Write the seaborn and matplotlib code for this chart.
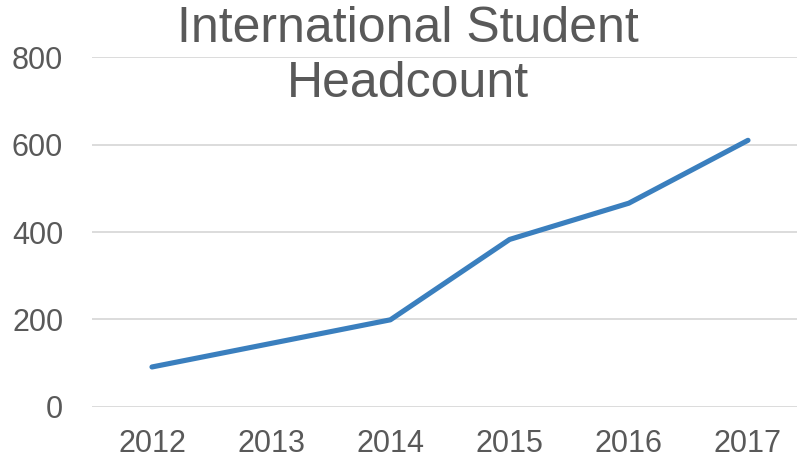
import matplotlib

matplotlib.use("Agg")

import matplotlib.pyplot as plt
import pandas as pd
import seaborn as sns

# Data
years = [2012, 2013, 2014, 2015, 2016, 2017]
headcount = [91, 145, 199, 383, 466, 610]
y_ticks = [0, 200, 400, 600, 800]
title = "International Student\nHeadcount"

df = pd.DataFrame({"year": years, "headcount": headcount})

sns.set_theme(style="white")
plt.rcParams["font.family"] = ["Liberation Sans", "DejaVu Sans"]

text_color = "#595959"
grid_color = "#d9d9d9"
line_color = "#3a7fbe"

fig = plt.figure(figsize=(7.97, 4.59), dpi=100)
ax = fig.add_axes([0.1159, 0.1139, 0.8974, 0.7612])

sns.lineplot(data=df, x="year", y="headcount", color=line_color,
             linewidth=3.7, solid_capstyle="round", ax=ax)

ax.set_xlim(years[0] - 0.5, years[-1] + 0.5)
ax.set_ylim(y_ticks[0], y_ticks[-1])
ax.set_yticks(y_ticks)
ax.set_xticks(years)
ax.set_xticklabels([str(y) for y in years])

ax.grid(True, axis="y", color=grid_color, linewidth=1.3)
ax.set_axisbelow(True)
for spine in ax.spines.values():
    spine.set_visible(False)
ax.set_xlabel("")
ax.set_ylabel("")
ax.tick_params(axis="y", length=0, pad=21, labelsize=22, labelcolor=text_color)
ax.tick_params(axis="x", length=0, pad=16, labelsize=22, labelcolor=text_color)

fig.text(0.512, 0.986, title, ha="center", va="top", fontsize=36,
         color=text_color, linespacing=1.24)

fig.savefig("out.png", dpi=100)
